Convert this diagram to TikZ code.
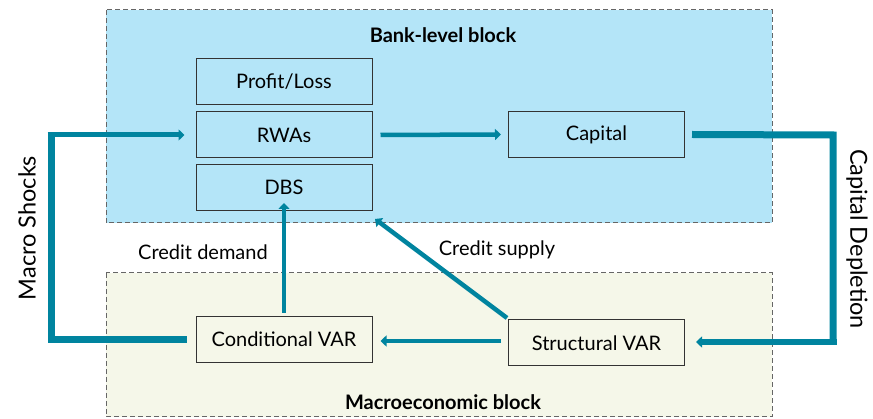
\documentclass[tikz,border=0pt]{standalone}
\usepackage{fontspec}
\setmainfont{Lato}
\usetikzlibrary{arrows.meta}
\definecolor{teal1}{HTML}{00849F}
\definecolor{bankfill}{HTML}{B4E5F8}
\definecolor{macrofill}{HTML}{F5F7E9}
\definecolor{boxline}{HTML}{333333}
\tikzset{
  block/.style={draw=black!60, dash pattern=on 5pt off 3pt, line width=1pt},
  mbox/.style={draw=boxline, line width=1pt, inner sep=0pt, minimum width=176pt, minimum height=46pt, font=\fontsize{20}{22}\selectfont},
  thick loop/.style={draw=teal1, line width=7pt},
  arr/.style={draw=teal1, line width=4.5pt, -{Triangle[length=6pt,width=11pt]}},
  lbl/.style={font=\fontsize{20}{22}\selectfont},
  btitle/.style={font=\bfseries\fontsize{20}{22}\selectfont},
}
\begin{document}
\begin{tikzpicture}[x=1pt,y=-1pt]
\useasboundingbox (0,0) rectangle (873,419);
% blocks
\draw[block, fill=bankfill] (106,10) rectangle (772,223);
\draw[block, fill=macrofill] (106,273) rectangle (772,417);
\node[btitle] (banktitle) at (443,35) {Bank-level block};
\node[btitle] (macrotitle) at (443,402) {Macroeconomic block};
% boxes
\node[mbox] (pl) at (284,82) {Profit/Loss};
\node[mbox] (rwa) at (284,135) {RWAs};
\node[mbox] (dbs) at (284,187.5) {DBS};
\node[mbox] (cap) at (596.5,134.5) {Capital};
\node[mbox] (cvar) at (284,339.5) {Conditional VAR};
\node[mbox] (svar) at (596.5,343) {Structural VAR};
% coordinates
\coordinate (ml) at (51,340);
\coordinate (mt) at (51,135);
\coordinate (cr) at (833,135);
\coordinate (cb) at (833,342);
% macro shocks loop
\draw[thick loop] ([xshift=-9pt]cvar.west |- 0,340) -- (ml) -- (mt);
\draw[arr, line width=5pt] ([xshift=-3.5pt]mt) -- ([xshift=-11pt]rwa.west);
% rwa to capital
\draw[arr] ([xshift=8pt]rwa.east) -- ([xshift=-7pt]cap.west);
% capital depletion loop
\draw[thick loop] ([xshift=7pt]cap.east) -- (cr) -- (cb);
\draw[arr, line width=6pt] ([xshift=3.5pt]cb) -- ([xshift=11pt]svar.east |- 0,342);
% svar to cvar
\draw[arr] ([xshift=-7pt]svar.west |- 0,341) -- ([xshift=8pt]cvar.east |- 0,341);
% credit demand
\draw[arr] (284,313) -- ([yshift=8pt]dbs.south);
% credit supply
\draw[arr] (507,318) -- (375,219);
% labels
\node[lbl] (cd) at (203,252) {Credit demand};
\node[lbl] (cs) at (497,250) {Credit supply};
\node[rotate=90, font=\fontsize{23.5}{26}\selectfont] (ms) at (27,228) {Macro Shocks};
\node[rotate=-90, font=\fontsize{23.5}{26}\selectfont] (cdep) at (857,239) {Capital Depletion};
\end{tikzpicture}
\end{document}
